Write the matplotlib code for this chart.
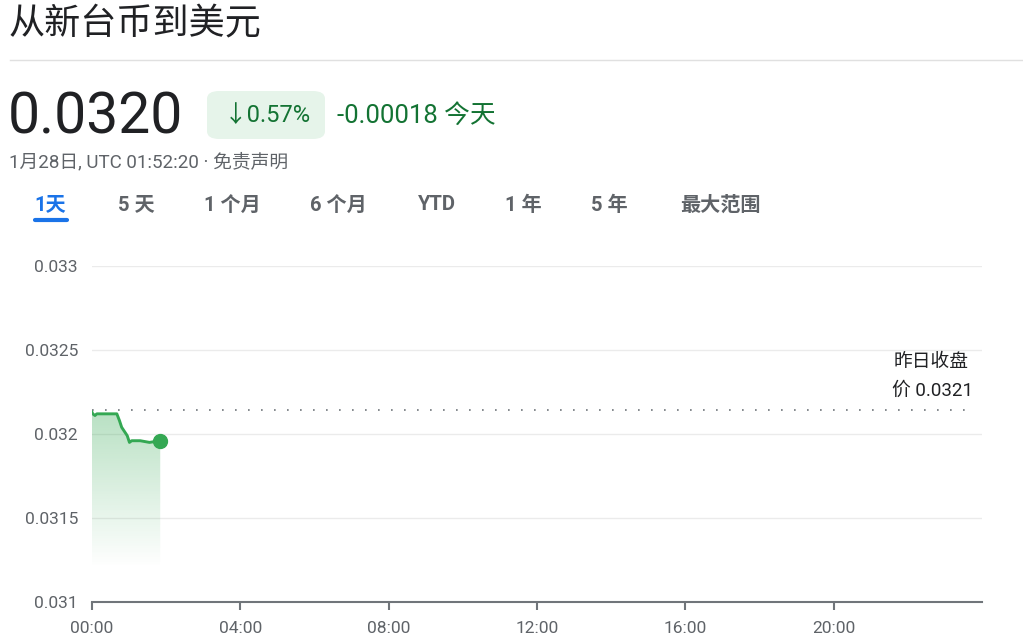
import numpy as np
import matplotlib
matplotlib.use("Agg")
import matplotlib.pyplot as plt
from matplotlib.patches import FancyBboxPatch

# data (hours since 00:00 UTC, NTD -> USD rate)
hours = [0.0, 0.02, 0.08, 0.13, 0.40, 0.67, 0.74, 0.80, 0.89, 0.95, 1.01, 1.07, 1.30, 1.55, 1.84]
rates = [0.03213, 0.03212, 0.03211, 0.03212, 0.03212, 0.03212, 0.03208, 0.03204, 0.03201,
         0.03199, 0.03195, 0.03196, 0.03196, 0.03195, 0.03196]
prev_close = 0.03214
yticks = [0.031, 0.0315, 0.032, 0.0325, 0.033]
ytick_labels = ["0.031", "0.0315", "0.032", "0.0325", "0.033"]
xticks = [0, 4, 8, 12, 16, 20]
xtick_labels = ["00:00", "04:00", "08:00", "12:00", "16:00", "20:00"]
tabs = ["1天", "5 天", "1 个月", "6 个月", "YTD", "1 年", "5 年", "最大范围"]
tab_x = [50, 136, 232, 338, 437, 523, 609, 720]

W, H = 1023, 641
FONT = ["Roboto", "Noto Sans CJK SC", "DejaVu Sans"]
plt.rcParams["font.family"] = FONT

fig = plt.figure(figsize=(W / 100, H / 100), dpi=100)
fig.patch.set_facecolor("white")


def fx(px):
    return px / W


def fy(py):
    return 1 - py / H


GREEN = "#34a853"
DARK_GREEN = "#137333"
GRAY = "#5f6368"

# header
fig.text(fx(9), fy(24), "从新台币到美元", fontsize=26, color="#202124",
         va="center", ha="left", family=["Noto Sans CJK SC"])
fig.add_artist(plt.Line2D([fx(10), fx(1023)], [fy(60), fy(60)], color="#e0e0e0", lw=1))

fig.text(fx(8), fy(118), "0.0320", fontsize=41, color="#202124", va="center", ha="left")
badge = FancyBboxPatch((fx(207), fy(139)), fx(118), 48 / H,
                       boxstyle="round,pad=0,rounding_size=0.012",
                       transform=fig.transFigure, facecolor="#e6f4ea", edgecolor="none")
fig.add_artist(badge)
fig.text(fx(267), fy(116), "↓0.57%", fontsize=17, color=DARK_GREEN, va="center", ha="center")
fig.text(fx(337), fy(116), "-0.00018 今天", fontsize=18.5, color=DARK_GREEN, va="center",
         ha="left")
fig.text(fx(9), fy(162), "1月28日, UTC 01:52:20 · 免责声明", fontsize=13.5, color=GRAY,
         va="center", ha="left")

# range tabs
for label, x in zip(tabs, tab_x):
    c = "#1a73e8" if label == "1天" else GRAY
    fig.text(fx(x), fy(205), label, fontsize=14.5, color=c, va="center", ha="center",
             fontweight="bold")
fig.add_artist(plt.Line2D([fx(35), fx(67)], [fy(220), fy(220)], color="#1a73e8", lw=3,
                          solid_capstyle="round"))

# chart
ax = fig.add_axes([fx(92), fy(602), fx(982) - fx(92), (602 - 266) / H])
ax.set_xlim(0, 24)
ax.set_ylim(0.031, 0.033)
ax.set_yticks(yticks)
ax.set_yticklabels(ytick_labels)
ax.set_xticks(xticks)
ax.set_xticklabels(xtick_labels)
for s in ["top", "right", "left"]:
    ax.spines[s].set_visible(False)
ax.spines["bottom"].set_color("#70757a")
ax.spines["bottom"].set_linewidth(1.5)
ax.tick_params(axis="y", length=0, pad=10, labelsize=12.5, labelcolor=GRAY)
ax.tick_params(axis="x", length=6, width=1.5, color="#70757a", pad=8, labelsize=12.5,
               labelcolor=GRAY)
ax.yaxis.grid(True, color="#ebebeb", lw=1)
ax.set_axisbelow(True)

# gradient fill under the line
fill_floor = 0.0312
poly = ax.fill_between(hours, rates, fill_floor, color="none", lw=0)
grad = np.zeros((100, 1, 4))
grad[:, 0, 0] = 0x34 / 255
grad[:, 0, 1] = 0xa8 / 255
grad[:, 0, 2] = 0x53 / 255
grad[:, 0, 3] = np.linspace(0.35, 0.0, 100)
img = ax.imshow(grad, extent=[0, hours[-1], fill_floor, max(rates)], aspect="auto",
                origin="upper", zorder=1)
img.set_clip_path(poly.get_paths()[0], transform=ax.transData)

ax.plot(hours, rates, color=GREEN, lw=2.1, zorder=3)
ax.plot(hours[-1], rates[-1], "o", color=GREEN, ms=10, zorder=4)

ax.plot([0, 23.7], [prev_close, prev_close], color="#70757a", lw=1.2, dashes=(1, 6.8), zorder=2)
ax.text(23.65, 0.03243, "昨日收盘", ha="right", va="center", fontsize=13.5, color="#202124")
ax.text(23.75, 0.032256, "价 0.0321", ha="right", va="center", fontsize=13.5, color="#202124")

fig.savefig("out.png", dpi=100, facecolor="white")
